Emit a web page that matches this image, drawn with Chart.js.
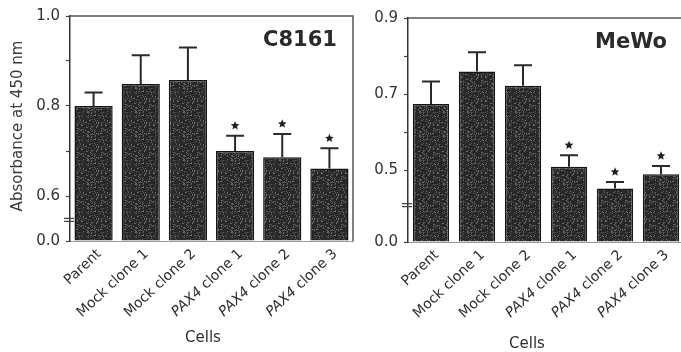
<!DOCTYPE html>
<html>
<head>
<meta charset="utf-8">
<script src="https://cdn.jsdelivr.net/npm/chart.js@4/dist/chart.umd.min.js"></script>
<style>
  html, body { margin: 0; padding: 0; background: #ffffff; overflow: hidden; }
  #wrap { position: relative; width: 681px; height: 352px; overflow: hidden; background: #fff; }
  #left { position: absolute; left: 0; top: 0; }
  #right { position: absolute; left: 356px; top: 0; }
</style>
</head>
<body>
<div id="wrap">
  <canvas id="left" width="356" height="352"></canvas>
  <canvas id="right" width="334" height="352"></canvas>
</div>
<script>
// ---- data ----
const categories = ['Parent', 'Mock clone 1', 'Mock clone 2', 'PAX4 clone 1', 'PAX4 clone 2', 'PAX4 clone 3'];
const c8161Values = [0.800, 0.849, 0.858, 0.700, 0.686, 0.661];
const c8161Errors = [0.030, 0.064, 0.072, 0.034, 0.052, 0.045];
const mewoValues = [0.674, 0.759, 0.722, 0.509, 0.452, 0.489];
const mewoErrors = [0.059, 0.051, 0.054, 0.030, 0.017, 0.022];
const significant = [false, false, false, true, true, true];
// axis: broken y axis, bottom of the axis is labelled 0.0
const c8161AxisBottom = 0.5;
const c8161AxisTop = 1.0;
const c8161TickValues = [0.5, 0.6, 0.7, 0.8, 0.9, 1.0];
const c8161TickLabels = ['0.0', '0.6', '', '0.8', '', '1.0'];
const c8161BreakAt = 0.547;
const mewoAxisBottom = 0.311;
const mewoAxisTop = 0.9;
const mewoTickValues = [0.311, 0.5, 0.6, 0.7, 0.8, 0.9];
const mewoTickLabels = ['0.0', '0.5', '', '0.7', '', '0.9'];
const mewoBreakAt = 0.408;
const yTitle = 'Absorbance at 450 nm';
const xTitle = 'Cells';

const FONT = '"DejaVu Sans", "Liberation Sans", sans-serif';

// speckled texture for bars (deterministic)
function makePattern() {
  const c = document.createElement('canvas');
  c.width = 24; c.height = 24;
  const g = c.getContext('2d');
  g.fillStyle = '#282828';
  g.fillRect(0, 0, 24, 24);
  let s = 12345;
  const rnd = () => { s = (s * 1103515245 + 12345) % 2147483648; return s / 2147483648; };
  for (let i = 0; i < 150; i++) {
    const x = Math.floor(rnd() * 24), y = Math.floor(rnd() * 24);
    const v = 65 + Math.floor(rnd() * 60);
    g.fillStyle = 'rgb(' + v + ',' + v + ',' + v + ')';
    g.fillRect(x, y, 1, 1);
  }
  return g.createPattern(c, 'repeat');
}

function drawStar(ctx, cx, cy, r) {
  ctx.beginPath();
  for (let i = 0; i < 10; i++) {
    const rad = i % 2 === 0 ? r : r * 0.45;
    const a = -Math.PI / 2 + i * Math.PI / 5;
    const x = cx + rad * Math.cos(a), y = cy + rad * Math.sin(a);
    if (i === 0) ctx.moveTo(x, y); else ctx.lineTo(x, y);
  }
  ctx.closePath();
  ctx.fill();
}

function makeChart(canvasId, cfg) {
  const decor = {
    id: 'decor',
    afterDatasetsDraw(chart) {
      const ctx = chart.ctx;
      const xs = chart.scales.x, ys = chart.scales.y;
      const ca = chart.chartArea;
      ctx.save();
      // frame top / right
      ctx.strokeStyle = '#555';
      ctx.lineWidth = 1.5;
      ctx.beginPath();
      ctx.moveTo(ca.left, ca.top);
      ctx.lineTo(ca.right, ca.top);
      if (cfg.rightBorder) ctx.lineTo(ca.right, ca.bottom);
      ctx.stroke();
      // error bars + stars
      ctx.strokeStyle = '#2a2a2a';
      ctx.fillStyle = '#1e1e1e';
      ctx.lineWidth = 2;
      cfg.values.forEach((v, i) => {
        const x = xs.getPixelForValue(i);
        const y0 = ys.getPixelForValue(v);
        const y1 = ys.getPixelForValue(v + cfg.errors[i]);
        ctx.beginPath();
        ctx.moveTo(x, y0);
        ctx.lineTo(x, y1);
        ctx.moveTo(x - 9, y1);
        ctx.lineTo(x + 9, y1);
        ctx.stroke();
        if (significant[i]) drawStar(ctx, x, y1 - 10, 4.6);
      });
      // axis break mark
      const yb = ys.getPixelForValue(cfg.breakAt);
      ctx.strokeStyle = '#444';
      ctx.lineWidth = 1.2;
      ctx.beginPath();
      ctx.moveTo(ca.left - 6, yb - 1.5); ctx.lineTo(ca.left + 4, yb - 1.5);
      ctx.moveTo(ca.left - 6, yb + 1.5); ctx.lineTo(ca.left + 4, yb + 1.5);
      ctx.stroke();
      // panel label
      ctx.fillStyle = '#2a2a2a';
      ctx.font = 'bold 21px ' + FONT;
      ctx.textAlign = 'center';
      ctx.textBaseline = 'middle';
      ctx.fillText(cfg.panel, cfg.panelX, cfg.panelY);
      // category labels (rotated, PAX4 in italics)
      ctx.fillStyle = '#2e2e2e';
      categories.forEach((lab, i) => {
        const x = xs.getPixelForValue(i);
        ctx.save();
        ctx.translate(x + 1, ca.bottom + 6);
        ctx.rotate(-43 * Math.PI / 180);
        ctx.textAlign = 'right';
        ctx.textBaseline = 'top';
        let it = '', rest = lab;
        if (lab.startsWith('PAX4')) { it = 'PAX4'; rest = lab.slice(4); }
        ctx.font = '14px ' + FONT;
        ctx.fillText(rest, 0, 0);
        const w = ctx.measureText(rest).width;
        if (it) {
          ctx.font = 'italic 14px ' + FONT;
          ctx.fillText(it, -w, 0);
        }
        ctx.restore();
      });
      // x title
      ctx.font = '15px ' + FONT;
      ctx.textAlign = 'center';
      ctx.textBaseline = 'middle';
      ctx.fillText(xTitle, cfg.xTitleX, cfg.xTitleY);
      // y title
      if (cfg.yTitle) {
        ctx.save();
        ctx.translate(18, 126);
        ctx.rotate(-Math.PI / 2);
        ctx.font = '15px ' + FONT;
        ctx.fillStyle = '#3a3a3a';
        ctx.fillText(cfg.yTitle, 0, 0);
        ctx.restore();
      }
      ctx.restore();
    }
  };

  return new Chart(document.getElementById(canvasId), {
    type: 'bar',
    data: {
      labels: categories,
      datasets: [{
        data: cfg.values,
        base: cfg.min,
        backgroundColor: makePattern(),
        borderColor: '#151515',
        borderWidth: 1.5,
        borderSkipped: 'start',
        categoryPercentage: 1.0,
        barPercentage: cfg.barPct
      }]
    },
    options: {
      responsive: false,
      animation: false,
      devicePixelRatio: 1,
      layout: { padding: { top: cfg.padTop, right: cfg.padRight, left: 0, bottom: 0 } },
      plugins: { legend: { display: false }, tooltip: { enabled: false } },
      scales: {
        x: {
          type: 'category',
          offset: true,
          grid: { display: false, drawTicks: false },
          ticks: { display: false },
          border: { display: true, color: '#9a9a9a', width: 1 },
          afterFit(s) { s.height = cfg.xHeight; }
        },
        y: {
          min: cfg.min,
          max: cfg.max,
          afterBuildTicks(s) { s.ticks = cfg.tickValues.map(v => ({ value: v })); },
          ticks: {
            autoSkip: false,
            padding: 6,
            color: '#333',
            font: { family: FONT, size: 15 },
            callback(value, index) { return cfg.tickLabels[index]; }
          },
          grid: { drawOnChartArea: false, tickLength: 4, color: '#444', tickWidth: 1.2 },
          border: { display: true, color: '#333', width: 1.5 },
          afterFit(s) { s.width = cfg.yWidth; }
        }
      }
    },
    plugins: [decor]
  });
}

makeChart('left', {
  values: c8161Values, errors: c8161Errors,
  min: c8161AxisBottom, max: c8161AxisTop,
  tickValues: c8161TickValues, tickLabels: c8161TickLabels, breakAt: c8161BreakAt,
  panel: 'C8161', panelX: 300, panelY: 41,
  xTitleX: 203, xTitleY: 338,
  yTitle: yTitle,
  padTop: 16, padRight: 3, xHeight: 111, yWidth: 70,
  barPct: 0.81, rightBorder: true
});

makeChart('right', {
  values: mewoValues, errors: mewoErrors,
  min: mewoAxisBottom, max: mewoAxisTop,
  tickValues: mewoTickValues, tickLabels: mewoTickLabels, breakAt: mewoBreakAt,
  panel: 'MeWo', panelX: 631 - 356, panelY: 43,
  xTitleX: 527 - 356, xTitleY: 344,
  yTitle: null,
  padTop: 18, padRight: 6, xHeight: 110, yWidth: 52,
  barPct: 0.79, rightBorder: false
});
</script>
</body>
</html>
